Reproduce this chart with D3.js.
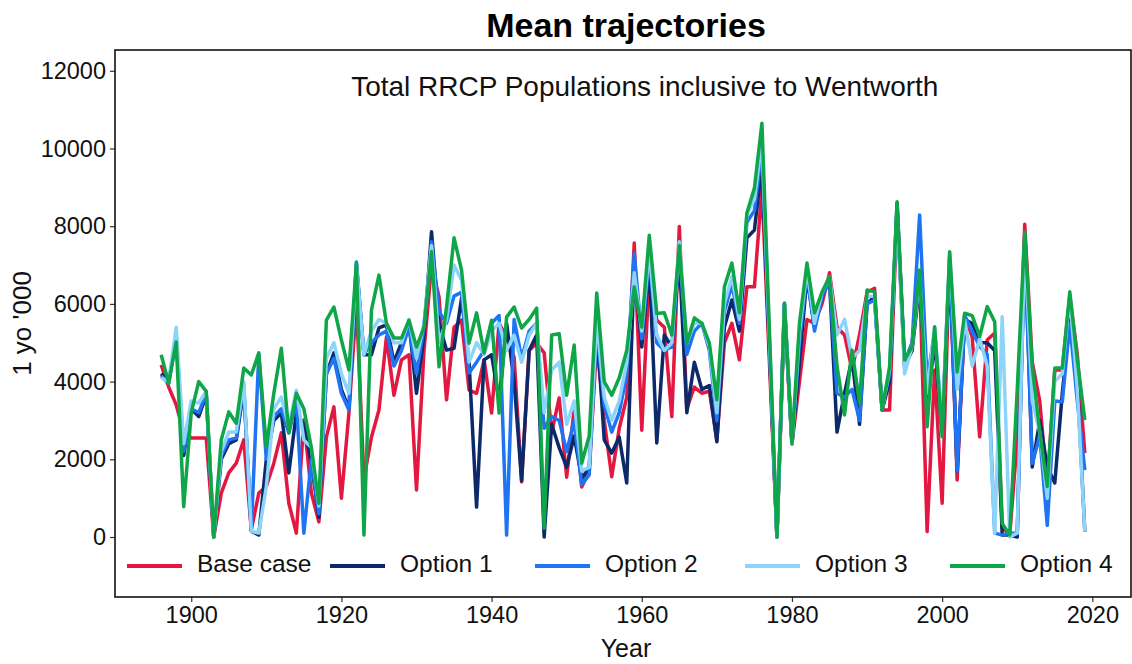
<!DOCTYPE html>
<html>
<head>
<meta charset="utf-8">
<script src="https://cdn.jsdelivr.net/npm/d3@7/dist/d3.min.js"></script>
<style>
  html, body { margin: 0; padding: 0; background: #fff; }
  svg { display: block; font-family: "Liberation Sans", Arial, sans-serif; }
</style>
</head>
<body>
<svg id="chart" width="1132" height="664"></svg>
<script>
// Years covered by the simulations
const years = d3.range(1896, 2020);

// Mean trajectories per scenario ('000 one-year-olds)
const baseCase = [
  4430, 3860, 3400, 2700, 2550, 2550, 2550, 0, 1130, 1650, 1900, 2500, 180, 1130, 1300,
  1900, 2680, 870, 100, 3010, 1130, 390, 2570, 3350, 1000, 3190, 6020, 1500, 2570, 3270,
  5150, 3650, 4560, 4690, 1210, 4800, 7000, 6180, 3530, 5400, 5580, 3780, 3700, 4560, 3190,
  5500, 5150, 4630, 1420, 4800, 4990, 4740, 2680, 3580, 1540, 3300, 1290, 1700, 5000, 3000,
  1550, 2800, 3600, 7570, 2750, 6800, 5580, 5400, 3100, 7990, 3300, 3860, 3700, 3750, 2500,
  5000, 5500, 4560, 6440, 6440, 9000, 4500, 0, 5800, 2400, 4000, 5600, 5500, 6000, 6800,
  5400, 5200, 4300, 5200, 6300, 6400, 3270, 3270, 8400, 4400, 5000, 6700, 140, 4300, 870,
  7200, 1470, 5700, 5150, 2580, 5070, 5250, 250, 50, 2500, 8050, 4500, 3500, 1300, 4300,
  4300, 6200, 4700, 2160
];
const option1 = [
  4200, 4000, 5100, 2100, 3300, 3100, 3650, 0, 2000, 2400, 2500, 3800, 150, 50, 2000,
  3000, 3200, 1650, 3200, 2900, 1900, 510, 4200, 4740, 3800, 3300, 7000, 4690, 4690, 5380,
  5460, 4500, 5000, 5500, 3700, 5200, 7860, 5500, 4810, 4860, 6150, 4500, 770, 4560, 4690,
  3500, 5500, 4000, 1450, 4800, 5200, 0, 2900, 2300, 1800, 2600, 1500, 1800, 5500, 2500,
  2160, 2570, 1390, 7000, 4890, 7000, 2420, 5200, 4890, 7200, 3200, 4500, 3800, 3900, 2450,
  5400, 6100, 5300, 7700, 7900, 9600, 4800, 0, 6000, 2400, 4500, 6700, 5400, 6200, 6600,
  2700, 3700, 4600, 2900, 6000, 6200, 3270, 4000, 8600, 4400, 4800, 6500, 3500, 5000, 2700,
  7100, 1700, 5600, 5500, 5000, 5000, 4800, 50, 50, 0, 7700, 1800, 3000, 1800, 1390,
  3700, 5590, 4000, 140
];
const option2 = [
  4150, 3950, 5200, 2200, 3300, 3200, 3700, 0, 2100, 2500, 2550, 3900, 200, 4700, 2000,
  3100, 3300, 2680, 3500, 100, 2000, 600, 4200, 4600, 3700, 3270, 7080, 4700, 5000, 5200,
  5300, 4400, 4800, 5400, 4200, 5400, 7600, 5800, 5500, 6200, 6300, 4220, 4500, 4800, 5500,
  5700, 50, 5600, 4600, 5300, 5500, 2800, 3100, 3000, 2200, 3000, 1350, 1600, 5400, 3400,
  2700, 3200, 4200, 7300, 5100, 7200, 5000, 4800, 4900, 7400, 4700, 5300, 5500, 4800, 3000,
  5800, 6500, 5500, 8100, 8400, 10000, 5000, 0, 6000, 2400, 5000, 6800, 5300, 6200, 6600,
  3700, 3600, 3800, 3000, 6000, 6100, 3300, 4200, 8500, 4500, 5000, 8290, 4000, 5300, 2800,
  7200, 1700, 5700, 5300, 4900, 4700, 100, 50, 100, 100, 7500, 1900, 2600, 300, 3500,
  3480, 5500, 3500, 1720
];
const option3 = [
  4100, 4000, 5400, 2400, 3500, 3450, 3750, 0, 2200, 2700, 2700, 4000, 150, 100, 1300,
  3300, 3600, 2830, 3780, 2500, 2300, 800, 4600, 5000, 4200, 3700, 7000, 4700, 5300, 5600,
  5500, 5000, 5000, 5600, 4600, 5500, 7500, 5000, 5600, 7000, 6600, 4500, 5000, 4700, 5300,
  5500, 4800, 5200, 4500, 5200, 5500, 3200, 4300, 4500, 2900, 3500, 1700, 1800, 5600, 3600,
  3000, 3500, 4500, 6800, 5300, 7400, 5200, 4800, 5000, 7600, 5000, 5500, 5500, 4900, 3200,
  6000, 6700, 5600, 8300, 8700, 10200, 5100, 0, 6000, 2400, 5300, 6900, 5500, 6300, 6700,
  5200, 5600, 4600, 4800, 6200, 6200, 3300, 4300, 8400, 4200, 4900, 6700, 3700, 5400, 2900,
  7300, 3800, 5600, 4400, 5100, 4400, 100, 5670, 0, 100, 7600, 3500, 2700, 1000, 4000,
  4200, 6200, 3800, 140
];
const option4 = [
  4690, 3960, 5020, 780, 3200, 4000, 3750, 0, 2500, 3220, 2930, 4350, 4170, 4740, 2320,
  3700, 4860, 2680, 3700, 3300, 2300, 870, 5580, 5920, 5070, 4300, 7050, 50, 5840, 6740,
  5500, 5120, 5120, 5580, 4890, 5400, 7340, 4380, 5920, 7700, 6870, 4990, 5770, 4740, 5580,
  3190, 5660, 5920, 5380, 5600, 5890, 230, 5200, 5230, 3650, 4940, 1900, 2600, 6280, 4000,
  3650, 4100, 4800, 6440, 5400, 7770, 5750, 5770, 5200, 7500, 4990, 5640, 5500, 4990, 3530,
  6440, 7050, 5770, 8340, 8980, 10650, 5300, 0, 6020, 2410, 5510, 7050, 5770, 6300, 6700,
  4400, 3140, 4810, 3450, 6360, 6310, 3270, 4380, 8630, 4560, 4900, 6870, 2840, 5410, 2580,
  7340, 4250, 5760, 5700, 5160, 5930, 5540, 350, 50, 3800, 7850, 4380, 2700, 1300, 4350,
  4350, 6310, 4560, 3010
];

const seriesNames = ["Base case", "Option 1", "Option 2", "Option 3", "Option 4"];
const seriesValues = [baseCase, option1, option2, option3, option4];
const seriesColors = ["#E3173F", "#0C2A6A", "#1E74F2", "#8CD4FA", "#0FA64A"];

const yTicks = [0, 2000, 4000, 6000, 8000, 10000, 12000];
const xTicks = [1900, 1920, 1940, 1960, 1980, 2000, 2020];

const titleText = "Mean trajectories";
const subtitleText = "Total RRCP Populations inclusive to Wentworth";
const xTitle = "Year";
const yTitle = "1 yo '000";

// ---- layout ----
const panel = { left: 115, right: 1131, top: 50, bottom: 597 };
const svg = d3.select("#chart");

const x = d3.scaleLinear().domain([1889.85, 2025.15]).range([panel.left, panel.right]);
const y = d3.scaleLinear().domain([-1544, 12535]).range([panel.bottom, panel.top]);

// title
svg.append("text")
  .attr("x", (panel.left + panel.right) / 2 + 3).attr("y", 37)
  .attr("text-anchor", "middle")
  .attr("font-size", 34).attr("font-weight", "bold").attr("fill", "#000")
  .text(titleText);

// series lines, clipped to the panel
svg.append("clipPath").attr("id", "clip")
  .append("rect")
  .attr("x", panel.left).attr("y", panel.top)
  .attr("width", panel.right - panel.left).attr("height", panel.bottom - panel.top);

const line = d3.line()
  .x((d, i) => x(years[i]))
  .y(d => y(d));

const lines = svg.append("g").attr("clip-path", "url(#clip)");
seriesValues.forEach((vals, s) => {
  lines.append("path")
    .datum(vals)
    .attr("fill", "none")
    .attr("stroke", seriesColors[s])
    .attr("stroke-width", 3.5)
    .attr("stroke-linejoin", "round")
    .attr("stroke-linecap", "butt")
    .attr("d", line);
});

// subtitle annotation inside the panel
svg.append("text")
  .attr("x", x(1960) + 3).attr("y", y(11530))
  .attr("text-anchor", "middle").attr("dominant-baseline", "middle")
  .attr("font-size", 28).attr("fill", "#111")
  .text(subtitleText);

// axes
const yAxis = d3.axisLeft(y).tickValues(yTicks).tickSize(5).tickPadding(4).tickFormat(d3.format("d"));
const xAxis = d3.axisBottom(x).tickValues(xTicks).tickSize(5).tickPadding(4).tickFormat(d3.format("d"));

const gy = svg.append("g").attr("transform", `translate(${panel.left},0)`).call(yAxis);
const gx = svg.append("g").attr("transform", `translate(0,${panel.bottom})`).call(xAxis);
[gx, gy].forEach(g => {
  g.select(".domain").remove();
  g.selectAll(".tick line").attr("stroke", "#333").attr("stroke-width", 1.2);
  g.selectAll(".tick text")
    .attr("font-size", 23.5).attr("fill", "#111")
    .attr("font-family", "'Liberation Sans', Arial, sans-serif");
});

// panel border
svg.append("rect")
  .attr("x", panel.left).attr("y", panel.top)
  .attr("width", panel.right - panel.left).attr("height", panel.bottom - panel.top)
  .attr("fill", "none").attr("stroke", "#111").attr("stroke-width", 1.6);

// axis titles
svg.append("text")
  .attr("x", (panel.left + panel.right) / 2 + 3).attr("y", 657)
  .attr("text-anchor", "middle").attr("font-size", 25).attr("fill", "#111")
  .text(xTitle);
svg.append("text")
  .attr("transform", `translate(31,${(panel.top + panel.bottom) / 2}) rotate(-90)`)
  .attr("text-anchor", "middle").attr("font-size", 26).attr("fill", "#111")
  .text(yTitle);

// legend along the bottom of the panel
const legendKeyX = [127, 330, 535, 745, 950];
const legendY = 566;
const legend = svg.append("g");
seriesNames.forEach((name, s) => {
  legend.append("line")
    .attr("x1", legendKeyX[s]).attr("x2", legendKeyX[s] + 55)
    .attr("y1", legendY).attr("y2", legendY)
    .attr("stroke", seriesColors[s]).attr("stroke-width", 4);
  legend.append("text")
    .attr("x", legendKeyX[s] + 70).attr("y", legendY)
    .attr("dominant-baseline", "middle")
    .attr("font-size", 24.5).attr("fill", "#111")
    .text(name);
});
</script>
</body>
</html>
